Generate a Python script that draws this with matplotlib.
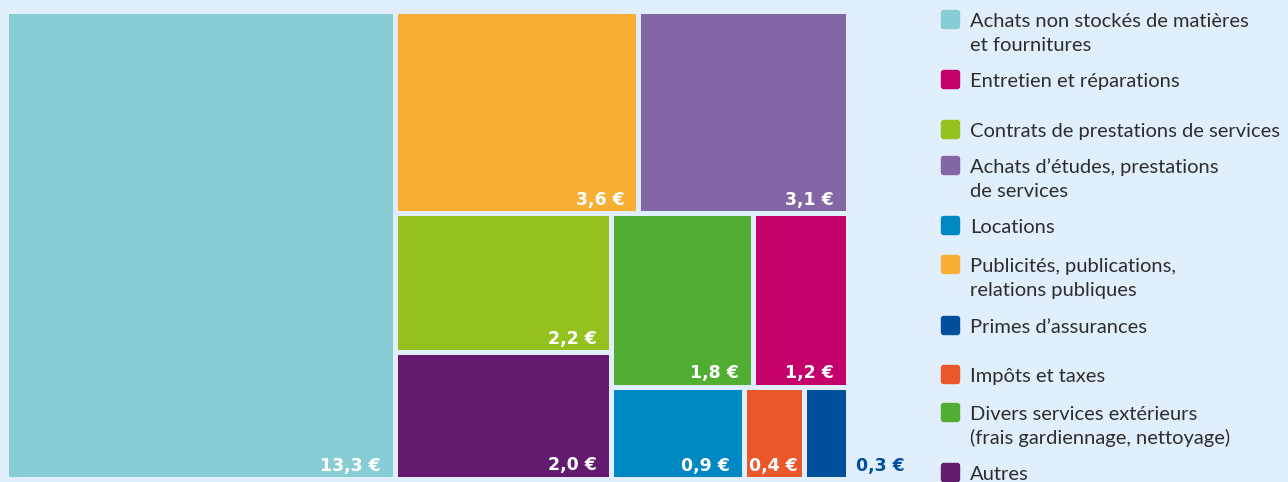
import matplotlib.pyplot as plt
from matplotlib.patches import Rectangle, FancyBboxPatch

# legend order
categories = [
    "Achats non stockés de matières\net fournitures",
    "Entretien et réparations",
    "Contrats de prestations de services",
    "Achats d’études, prestations\nde services",
    "Locations",
    "Publicités, publications,\nrelations publiques",
    "Primes d’assurances",
    "Impôts et taxes",
    "Divers services extérieurs\n(frais gardiennage, nettoyage)",
    "Autres",
]
values = [13.3, 1.2, 2.2, 3.1, 0.9, 3.6, 0.3, 0.4, 1.8, 2.0]
colors = ["#89cdd4", "#c4006a", "#95c11f", "#8366a3", "#0088c3",
          "#f7ae33", "#00509d", "#e9572a", "#52ae32", "#621b6f"]

# nesting of the treemap (indices into categories), slice and dice
tree = [0, [[5, 3], [[2, 9], [[8, 1], [4, 7, 6]]]]]

bg = "#e1eefb"
W, H = 842, 468
gap = 5


def node_value(node):
    if isinstance(node, int):
        return values[node]
    return sum(node_value(c) for c in node)


def layout(node, x, y, w, h, horiz, out):
    if isinstance(node, int):
        out.append((node, x, y, w, h))
        return
    total = node_value(node)
    pos = 0
    for c in node:
        frac = node_value(c) / total
        if horiz:
            layout(c, x + pos * w, y, frac * w, h, not horiz, out)
        else:
            layout(c, x, y + pos * h, w, frac * h, not horiz, out)
        pos += frac


fig = plt.figure(figsize=(12.88, 4.82), dpi=100, facecolor=bg)
ax = fig.add_axes([6.5 / 1288, 1 - 479.5 / 482, W / 1288, H / 482])
ax.set_xlim(0, W)
ax.set_ylim(H, 0)
ax.axis("off")

rects = []
layout(tree, 0, 0, W, H, True, rects)
for i, x, y, w, h in rects:
    ax.add_patch(Rectangle((x + gap / 2, y + gap / 2), w - gap, h - gap,
                           facecolor=colors[i], edgecolor="none"))
    label = f"{values[i]:.1f} €".replace(".", ",")
    if values[i] < 0.35:
        ax.text(x + w + 8, y + h - 9, label, ha="left", va="baseline",
                color=colors[i], fontsize=12.5, fontweight="bold", clip_on=False)
    else:
        pad = 12 if w > 80 else 4
        ax.text(x + w - gap / 2 - pad, y + h - 9, label, ha="right", va="baseline",
                color="white", fontsize=12.5, fontweight="bold")

# legend
lg = fig.add_axes([0, 0, 1, 1])
lg.set_xlim(0, 1288)
lg.set_ylim(482, 0)
lg.axis("off")
lg.patch.set_visible(False)
baselines = [27, 87, 137, 173, 233, 272, 333, 382, 420, 480]
for i, (name, b) in enumerate(zip(categories, baselines)):
    lg.add_patch(FancyBboxPatch((942, b - 16), 17, 17,
                                boxstyle="round,pad=1.2,rounding_size=3",
                                facecolor=colors[i], edgecolor="none"))
    for k, line in enumerate(name.split("\n")):
        lg.text(970, b + 24 * k, line, ha="left", va="baseline",
                fontsize=14.5, color="#2e2e2e", family="Lato")

fig.savefig("out.png", dpi=100, facecolor=bg)
